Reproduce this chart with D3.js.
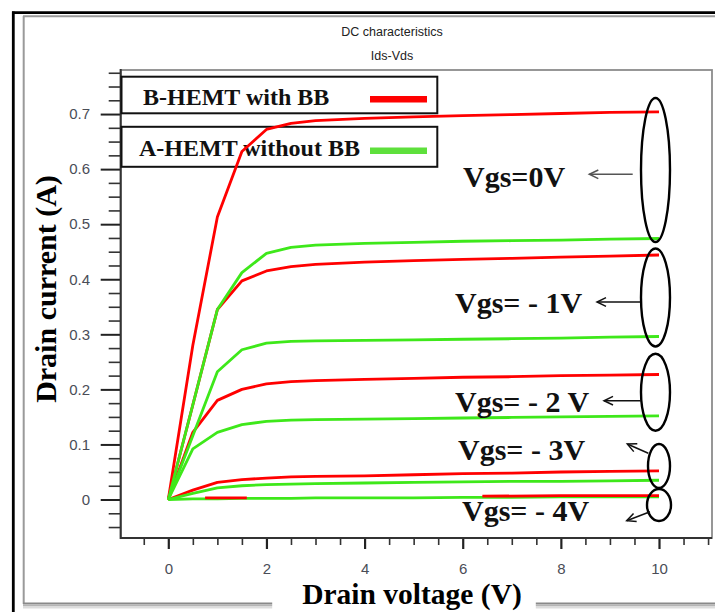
<!DOCTYPE html>
<html>
<head>
<meta charset="utf-8">
<script src="https://cdn.jsdelivr.net/npm/d3@7"></script>
<style>
  html, body { margin: 0; padding: 0; background: #fff; }
  svg { display: block; }
</style>
</head>
<body>
<svg id="chart" width="715" height="612"></svg>
<script>
// ---------------- DATA ----------------
const chartTitle = "DC characteristics";
const chartSubtitle = "Ids-Vds";
const xAxisTitle = "Drain voltage (V)";
const yAxisTitle = "Drain current (A)";

const vds = [0, 0.5, 1, 1.5, 2, 2.5, 3, 4, 5, 6, 7, 8, 9, 10];

// B-HEMT with BB (red)
const redVgs0  = [0, 0.280, 0.513, 0.632, 0.672, 0.683, 0.688, 0.692, 0.695, 0.697, 0.699, 0.701, 0.703, 0.704];
const redVgsM1 = [0, 0.172, 0.345, 0.397, 0.415, 0.423, 0.427, 0.431, 0.434, 0.436, 0.438, 0.440, 0.442, 0.444];
const redVgsM2 = [0, 0.122, 0.180, 0.200, 0.210, 0.214, 0.216, 0.218, 0.220, 0.222, 0.223, 0.225, 0.226, 0.227];
const redVgsM3 = [0, 0.017, 0.031, 0.036, 0.039, 0.041, 0.042, 0.043, 0.045, 0.047, 0.048, 0.050, 0.051, 0.052];
// Vgs = -4 V red trace: only the parts that show above the green trace
const redVgsM4Vds = [0.75, 1, 1.6, 4, 6.4, 8, 10];
const redVgsM4    = [0.003, 0.003, 0.003, null, 0.006, 0.007, 0.007];

// A-HEMT without BB (green)
const greenVgs0  = [0, 0.172, 0.345, 0.412, 0.447, 0.458, 0.462, 0.465, 0.467, 0.469, 0.470, 0.471, 0.473, 0.474];
const greenVgsM1 = [0, 0.116, 0.232, 0.272, 0.284, 0.287, 0.288, 0.289, 0.290, 0.291, 0.292, 0.293, 0.295, 0.296];
const greenVgsM2 = [0, 0.092, 0.122, 0.136, 0.142, 0.144, 0.145, 0.146, 0.147, 0.148, 0.149, 0.150, 0.151, 0.152];
const greenVgsM3 = [0, 0.011, 0.021, 0.025, 0.027, 0.028, 0.029, 0.030, 0.031, 0.032, 0.033, 0.033, 0.034, 0.035];
const greenVgsM4 = [0, 0.001, 0.001, 0.002, 0.002, 0.002, 0.003, 0.003, 0.003, 0.004, 0.004, 0.005, 0.005, 0.005];

const xTickValues = [0, 2, 4, 6, 8, 10];
const xTickLabels = ["0", "2", "4", "6", "8", "10"];
const yTickValues = [0, 0.1, 0.2, 0.3, 0.4, 0.5, 0.6, 0.7];
const yTickLabels = ["0", "0.1", "0.2", "0.3", "0.4", "0.5", "0.6", "0.7"];

const legendLabels = ["B-HEMT with BB", "A-HEMT without BB"];
const annotationLabels = ["Vgs=0V", "Vgs= - 1V", "Vgs= - 2 V", "Vgs= - 3V", "Vgs= - 4V"];

// ---------------- STYLE / LAYOUT ----------------
const RED = "#ff0000";
const GREEN = "#3ee81a";
const LEGEND_GREEN = "#5ee03c";
const SERIF = "'Liberation Serif', 'Times New Roman', serif";
const SANS = "'Liberation Sans', Arial, sans-serif";
const TICK_COLOR = "#4a4d57";

const svg = d3.select("#chart");

const x = d3.scaleLinear().domain([-0.97, 11.08]).range([120.7, 712]);
const y = d3.scaleLinear().domain([-0.0699, 0.78]).range([538, 70]);

// ---------------- FIGURE BORDERS ----------------
const border = svg.append("g");
border.append("line").attr("x1", 13.3).attr("x2", 13.3).attr("y1", 11.5).attr("y2", 612)
  .attr("stroke", "#000").attr("stroke-width", 2.8);
border.append("line").attr("x1", 12).attr("x2", 715).attr("y1", 12.7).attr("y2", 12.7)
  .attr("stroke", "#000").attr("stroke-width", 2.8);
border.append("line").attr("x1", 23.7).attr("x2", 23.7).attr("y1", 16).attr("y2", 604)
  .attr("stroke", "#9a9a9a").attr("stroke-width", 2);
border.append("line").attr("x1", 23).attr("x2", 715).attr("y1", 16.2).attr("y2", 16.2)
  .attr("stroke", "#9a9a9a").attr("stroke-width", 2);
[[603.5, "#8a8a8a", 2], [605.5, "#b5b5b5", 2], [607.5, "#dddddd", 2]].forEach(([yy, c, w]) => {
  border.append("line").attr("x1", 23).attr("x2", 715).attr("y1", yy).attr("y2", yy)
    .attr("stroke", c).attr("stroke-width", w);
});

// ---------------- TITLES ----------------
svg.append("text").attr("x", 392).attr("y", 35.5).attr("text-anchor", "middle")
  .attr("font-family", SANS).attr("font-size", 12.5).attr("fill", "#222").text(chartTitle);
svg.append("text").attr("x", 392).attr("y", 59.5).attr("text-anchor", "middle")
  .attr("font-family", SANS).attr("font-size", 12.5).attr("fill", "#222").text(chartSubtitle);

// ---------------- PLOT FRAME ----------------
svg.append("rect").attr("x", 120.7).attr("y", 70).attr("width", 712 - 120.7).attr("height", 538 - 70)
  .attr("fill", "none").attr("stroke", "#8c8c8c").attr("stroke-width", 1.8);

// ---------------- AXES ----------------
const yMinor = d3.range(-2, 32).map(k => k * 0.025).filter(v => Math.abs(v * 10 - Math.round(v * 10)) > 1e-6);
const yMinorAxis = d3.axisLeft(y).tickValues(yMinor).tickSize(12).tickFormat("");
svg.append("g").attr("transform", `translate(${x.range()[0]},0)`).call(yMinorAxis)
  .call(g => g.select(".domain").remove())
  .call(g => g.selectAll("line").attr("stroke", "#333").attr("stroke-width", 1.6));

const yAxis = d3.axisLeft(y).tickValues(yTickValues).tickSize(20).tickPadding(10.7)
  .tickFormat((d, i) => yTickLabels[i]);
svg.append("g").attr("transform", `translate(${x.range()[0]},0)`).call(yAxis)
  .call(g => g.select(".domain").remove())
  .call(g => g.selectAll("line").attr("stroke", "#222").attr("stroke-width", 2))
  .call(g => g.selectAll("text").attr("font-family", SANS).attr("font-size", 15).attr("fill", TICK_COLOR));

const xMinor = d3.range(-1, 23).map(k => k * 0.5).filter(v => v > -0.97 && v < 11.08 && !(v % 2 === 0 && v >= 0 && v <= 10));
const xMinorAxis = d3.axisBottom(x).tickValues(xMinor).tickSize(7).tickFormat("");
svg.append("g").attr("transform", `translate(0,${y.range()[0]})`).call(xMinorAxis)
  .call(g => g.select(".domain").remove())
  .call(g => g.selectAll("line").attr("stroke", "#333").attr("stroke-width", 1.6));

const xAxis = d3.axisBottom(x).tickValues(xTickValues).tickSize(11).tickPadding(14)
  .tickFormat((d, i) => xTickLabels[i]);
svg.append("g").attr("transform", `translate(0,${y.range()[0]})`).call(xAxis)
  .call(g => g.select(".domain").remove())
  .call(g => g.selectAll("line").attr("stroke", "#222").attr("stroke-width", 2.2))
  .call(g => g.selectAll("text").attr("font-family", SANS).attr("font-size", 15).attr("fill", TICK_COLOR));

svg.append("line").attr("x1", x.range()[0]).attr("x2", x.range()[0]).attr("y1", 69).attr("y2", 539)
  .attr("stroke", "#333").attr("stroke-width", 2);
svg.append("line").attr("x1", x.range()[0]).attr("x2", 712).attr("y1", 538).attr("y2", 538)
  .attr("stroke", "#333").attr("stroke-width", 2);

// axis titles
svg.append("text").attr("transform", "translate(56,289) rotate(-90)").attr("text-anchor", "middle")
  .attr("font-family", SERIF).attr("font-weight", "bold").attr("font-size", 30).attr("fill", "#000")
  .text(yAxisTitle);

const xTitle = svg.append("text").attr("x", 412).attr("y", 604).attr("text-anchor", "middle")
  .attr("font-family", SERIF).attr("font-weight", "bold").attr("font-size", 29.5).attr("fill", "#000")
  .text(xAxisTitle);
const bb = xTitle.node().getBBox();
svg.insert("rect", () => xTitle.node()).attr("x", bb.x - 30).attr("y", bb.y + 10).attr("width", bb.width + 44)
  .attr("height", bb.height).attr("fill", "#fff");

// ---------------- LEGEND ----------------
const legendBoxes = [{y: 76.7, h: 36.6, baseline: 104.5, textX: 143, color: RED, lineY: 99.3},
                     {y: 126.8, h: 40, baseline: 155.5, textX: 139, color: LEGEND_GREEN, lineY: 150.8}];
legendLabels.forEach((lab, i) => {
  const b = legendBoxes[i];
  svg.append("rect").attr("x", 121.5).attr("y", b.y).attr("width", 437.3 - 121.5).attr("height", b.h)
    .attr("fill", "#fff").attr("stroke", "#111").attr("stroke-width", 2);
  svg.append("text").attr("x", b.textX).attr("y", b.baseline)
    .attr("font-family", SERIF).attr("font-weight", "bold").attr("font-size", 24).attr("fill", "#111")
    .text(lab);
  svg.append("line").attr("x1", 370).attr("x2", 427).attr("y1", b.lineY).attr("y2", b.lineY)
    .attr("stroke", b.color).attr("stroke-width", 6.5);
});

// ---------------- CURVES ----------------
const line = d3.line().defined(d => d[1] !== null).x(d => x(d[0])).y(d => y(d[1]));
const zip = (xs, ys) => xs.map((v, i) => [v, ys[i]]);

const curves = svg.append("g").attr("fill", "none").attr("stroke-width", 2.8)
  .attr("stroke-linejoin", "round").attr("stroke-linecap", "butt");

[redVgs0, redVgsM1, redVgsM2, redVgsM3].forEach(arr => {
  curves.append("path").attr("d", line(zip(vds, arr))).attr("stroke", RED);
});
[greenVgs0, greenVgsM1, greenVgsM2, greenVgsM3, greenVgsM4].forEach(arr => {
  curves.append("path").attr("d", line(zip(vds, arr))).attr("stroke", GREEN);
});
curves.append("path").attr("d", line(zip(redVgsM4Vds, redVgsM4))).attr("stroke", RED);

// ---------------- ANNOTATIONS ----------------
const annoLayout = [
  {tx: 463, ty: 187, ell: [655.5, 170, 14.5, 72], arrow: [632.7, 174.3, 589.3, 174.3], color: "#555"},
  {tx: 455, ty: 313, ell: [655.5, 297.5, 14.5, 49], arrow: [640, 302, 597, 302], color: "#111"},
  {tx: 455, ty: 412, ell: [655.5, 392.3, 14.5, 38.5], arrow: [641, 400.7, 604, 400.7], color: "#111"},
  {tx: 458, ty: 460, ell: [659, 466, 11, 22], arrow: [648.3, 453.3, 627.3, 444], color: "#111"},
  {tx: 462, ty: 521, ell: [659, 505, 12, 16], arrow: [650, 511.7, 626.7, 520.7], color: "#111"}
];
const ann = svg.append("g");
annotationLabels.forEach((lab, i) => {
  const a = annoLayout[i];
  ann.append("text").attr("x", a.tx).attr("y", a.ty)
    .attr("font-family", SERIF).attr("font-weight", "bold").attr("font-size", 30).attr("fill", "#111")
    .text(lab);
  ann.append("ellipse").attr("cx", a.ell[0]).attr("cy", a.ell[1]).attr("rx", a.ell[2]).attr("ry", a.ell[3])
    .attr("fill", "none").attr("stroke", "#000").attr("stroke-width", 2.4);
  const [x1, y1, x2, y2] = a.arrow;
  ann.append("line").attr("x1", x1).attr("y1", y1).attr("x2", x2).attr("y2", y2)
    .attr("stroke", a.color).attr("stroke-width", 1.5);
  const ang = Math.atan2(y1 - y2, x1 - x2);
  const L = 10, spread = Math.PI / 7;
  const p = [ang - spread, ang + spread].map(t => [x2 + L * Math.cos(t), y2 + L * Math.sin(t)]);
  ann.append("path").attr("d", `M${p[0][0]},${p[0][1]}L${x2},${y2}L${p[1][0]},${p[1][1]}`)
    .attr("fill", "none").attr("stroke", a.color).attr("stroke-width", 1.5);
});
</script>
</body>
</html>
